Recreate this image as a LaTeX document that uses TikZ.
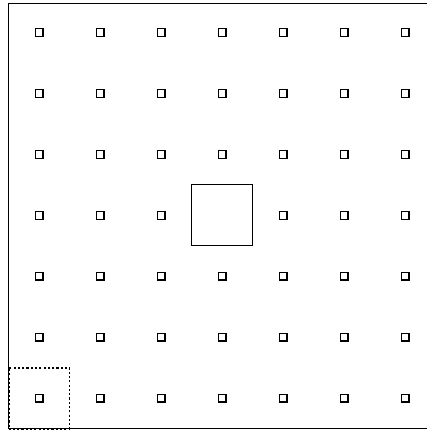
\documentclass[tikz,border=0pt]{standalone}
\usepackage{tikz}
\usetikzlibrary{positioning}

\begin{document}
\begin{tikzpicture}
\tikzstyle{dot} = [rectangle, minimum size=0.13cm, inner sep=0pt, draw=black, line width=0.5pt]
\tikzstyle{cell} = [rectangle, minimum size=1cm, inner sep=0pt, draw=black, line width=0.6pt]

\clip (0,0) rectangle (7,7.066);
\draw [line width=0.6pt] (0.14,0.04) rectangle (7.3,7.01);

\foreach \i in {0,...,6}
  \foreach \j in {0,...,6} {
    \pgfmathtruncatemacro{\hole}{(\i==3)&&(\j==3)}
    \ifnum\hole=0
      \node (pt-\i-\j) [dot] at (0.64+\i, 0.54+\j) {};
    \fi
  }

\node (centre) [cell] at (3.64,3.54) {};
\node (origin) [cell, dash pattern=on 1pt off 1pt, line width=0.9pt] at (pt-0-0) {};
\end{tikzpicture}
\end{document}
